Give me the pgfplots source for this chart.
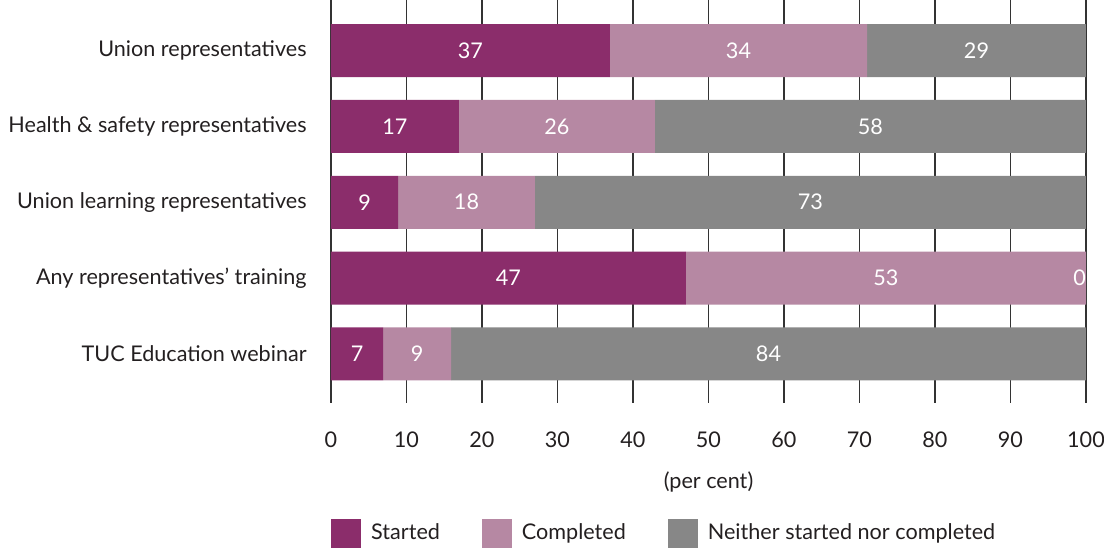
\documentclass[border=0pt]{standalone}
\usepackage{pgfplots}
\pgfplotsset{compat=1.18}
\usepackage{fontspec}
\setmainfont{Lato}
\definecolor{cstart}{HTML}{8B2D6B}
\definecolor{ccomp}{HTML}{B688A3}
\definecolor{cnei}{HTML}{878787}
\definecolor{cgrid}{HTML}{333333}
\definecolor{ctext}{HTML}{231F20}
\newcommand{\cf}{\fontsize{21.6}{26}\selectfont}
\begin{document}
\cf
\begin{tikzpicture}
\begin{axis}[
  name=ax,
  xbar stacked,
  scale only axis,
  clip=false,
  width=755pt, height=403pt,
  xmin=0, xmax=100,
  ymin=-0.65, ymax=4.67,
  bar width=53pt,
  xtick={0,10,...,100},
  ytick={0,1,2,3,4},
  yticklabels={TUC Education webinar, Any representatives’ training, Union learning representatives, Health \& safety representatives, Union representatives},
  axis line style={draw=none},
  major tick length=0pt,
  xmajorgrids, grid style={cgrid, line width=1.3pt},
  tick label style={font=\cf, text=ctext},
  /pgf/number format/assume math mode=true,
  yticklabel style={xshift=-17pt},
  xticklabel style={yshift=-21pt},
  xlabel={(per cent)},
  xlabel style={at={(axis description cs:0.5,0)}, anchor=center, yshift=-79pt, text=ctext, font=\cf},
  point meta=explicit,
  visualization depends on=rawx \as \rawx,
  nodes near coords={\ifdim\rawx pt<0.01pt\llap{0}\else\pgfmathprintnumber{\pgfplotspointmeta}\fi},
  every node near coord/.append style={anchor=center, text=white, font=\cf},
  legend style={at={(axis description cs:0,-0.3238)}, anchor=west, draw=none, fill=none, inner sep=0pt, legend columns=-1, font=\cf, text=ctext,
    /tikz/every odd column/.append style={column sep=8pt},
    /tikz/every even column/.append style={column sep=40pt}},
  legend image code/.code={\path[#1, draw=none] (0pt,-14.5pt) rectangle (30pt,14.5pt);},
]
\addplot[fill=cstart, draw=none] coordinates {(6.9,0) [7] (47,1) [47] (8.9,2) [9] (16.95,3) [17] (36.95,4) [37]};
\addplot[fill=ccomp, draw=none] coordinates {(9,0) [9] (53,1) [53] (18.1,2) [18] (25.95,3) [26] (34.05,4) [34]};
\addplot[fill=cnei, draw=none] coordinates {(84.1,0) [84] (0.0001,1) [0] (73,2) [73] (57.1,3) [58] (29,4) [29]};
\legend{Started, Completed, Neither started nor completed}
\end{axis}
\pgfresetboundingbox
\path (ax.south west) ++(-331pt,-145pt) rectangle ++(1104pt,548pt);
\end{tikzpicture}
\end{document}
